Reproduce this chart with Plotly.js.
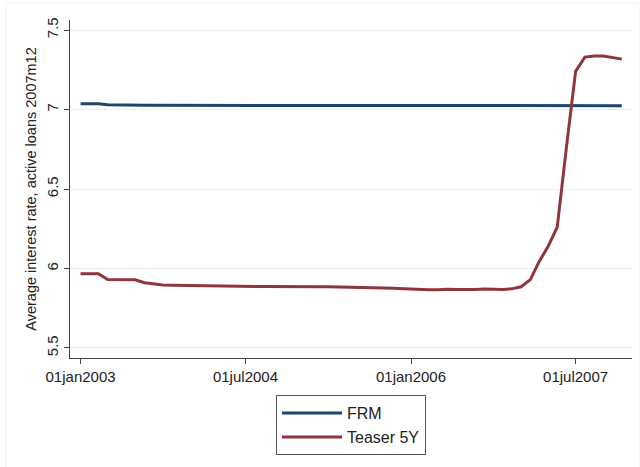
<!DOCTYPE html>
<html>
<head>
<meta charset="utf-8">
<script src="https://cdn.plot.ly/plotly-3.0.1.min.js"></script>
<style>html,body{margin:0;padding:0;background:#fff;}#chart{width:640px;height:467px;}</style>
</head>
<body>
<div id="chart"></div>
<script>
// Monthly observations 2003m1 .. 2007m12
var months = [
  '2003-01-01','2003-02-01','2003-03-01','2003-04-01','2003-05-01','2003-06-01','2003-07-01','2003-08-01','2003-09-01','2003-10-01','2003-11-01','2003-12-01',
  '2004-01-01','2004-02-01','2004-03-01','2004-04-01','2004-05-01','2004-06-01','2004-07-01','2004-08-01','2004-09-01','2004-10-01','2004-11-01','2004-12-01',
  '2005-01-01','2005-02-01','2005-03-01','2005-04-01','2005-05-01','2005-06-01','2005-07-01','2005-08-01','2005-09-01','2005-10-01','2005-11-01','2005-12-01',
  '2006-01-01','2006-02-01','2006-03-01','2006-04-01','2006-05-01','2006-06-01','2006-07-01','2006-08-01','2006-09-01','2006-10-01','2006-11-01','2006-12-01',
  '2007-01-01','2007-02-01','2007-03-01','2007-04-01','2007-05-01','2007-06-01','2007-07-01','2007-08-01','2007-09-01','2007-10-01','2007-11-01','2007-12-01'
];

var frm = [
  7.037, 7.037, 7.036, 7.030, 7.028, 7.027, 7.027, 7.026, 7.026, 7.026, 7.026, 7.026,
  7.026, 7.026, 7.025, 7.025, 7.025, 7.025, 7.025, 7.025, 7.025, 7.025, 7.025, 7.025,
  7.024, 7.024, 7.024, 7.024, 7.024, 7.024, 7.024, 7.024, 7.024, 7.024, 7.024, 7.024,
  7.024, 7.024, 7.024, 7.024, 7.024, 7.024, 7.024, 7.024, 7.024, 7.024, 7.024, 7.024,
  7.024, 7.024, 7.024, 7.024, 7.024, 7.024, 7.024, 7.024, 7.024, 7.024, 7.024, 7.024
];

var teaser5y = [
  5.967, 5.967, 5.967, 5.931, 5.931, 5.931, 5.929, 5.910, 5.902, 5.896, 5.895, 5.894,
  5.892, 5.890, 5.888, 5.887, 5.887, 5.887, 5.887, 5.887, 5.887, 5.886, 5.886, 5.886,
  5.886, 5.885, 5.885, 5.885, 5.884, 5.884, 5.884, 5.882, 5.880, 5.878, 5.875, 5.872,
  5.869, 5.867, 5.866, 5.866, 5.870, 5.868, 5.867, 5.868, 5.871, 5.870, 5.868, 5.872,
  5.885, 5.930, 6.040, 6.140, 6.260, 6.770, 7.240, 7.330, 7.337, 7.336, 7.328, 7.317
];

var xTickVals = ['2003-01-01', '2004-07-01', '2006-01-01', '2007-07-01'];
var xTickText = ['01jan2003', '01jul2004', '01jan2006', '01jul2007'];
var yTickVals = [5.5, 6, 6.5, 7, 7.5];
var yTickText = ['5.5', '6', '6.5', '7', '7.5'];

var seriesNames = ['FRM', 'Teaser 5Y'];

var traces = [
  {x: months, y: frm, type: 'scatter', mode: 'lines', name: seriesNames[0],
   line: {color: '#1a476f', width: 3}},
  {x: months, y: teaser5y, type: 'scatter', mode: 'lines', name: seriesNames[1],
   line: {color: '#90353b', width: 3}}
];

var font = 'Liberation Sans, Arial, sans-serif';

var layout = {
  width: 640, height: 467,
  margin: {l: 70, r: 8, t: 20, b: 109},
  paper_bgcolor: '#ffffff',
  plot_bgcolor: '#ffffff',
  font: {family: font, size: 15, color: '#222'},
  showlegend: true,
  xaxis: {
    type: 'date',
    range: ['2002-11-27', '2008-01-04'],
    tickmode: 'array', tickvals: xTickVals, ticktext: xTickText,
    ticks: 'outside', ticklen: 5, tickcolor: '#444', tickwidth: 1,
    showline: true, linecolor: '#444', linewidth: 1,
    showgrid: false, zeroline: false,
    tickfont: {size: 15, family: font, color: '#222'}
  },
  yaxis: {
    range: [5.437, 7.563],
    tickmode: 'array', tickvals: yTickVals, ticktext: yTickText,
    tickangle: -90,
    ticks: 'outside', ticklen: 5, tickcolor: '#444', tickwidth: 1,
    showline: true, linecolor: '#444', linewidth: 1,
    showgrid: true, gridcolor: '#e8f0f1', gridwidth: 1,
    zeroline: false,
    tickfont: {size: 15, family: font, color: '#222'},
    title: {text: 'Average interest rate, active loans 2007m12', font: {size: 14.5, family: font, color: '#222'}, standoff: 3}
  },
  legend: {
    x: 0.5, xanchor: 'center', y: -0.11, yanchor: 'top',
    bordercolor: '#555', borderwidth: 1, bgcolor: '#ffffff',
    font: {size: 16, family: font, color: '#222'},
    itemwidth: 60, tracegroupgap: 0
  },
  shapes: [
    {type: 'rect', xref: 'paper', yref: 'paper', x0: -0.114, x1: 1.0142, y0: 1.05, y1: -0.33,
     line: {color: '#f2f2f2', width: 1}, fillcolor: 'rgba(0,0,0,0)', layer: 'below'}
  ]
};

Plotly.newPlot('chart', traces, layout, {displayModeBar: false, staticPlot: true});
</script>
</body>
</html>
